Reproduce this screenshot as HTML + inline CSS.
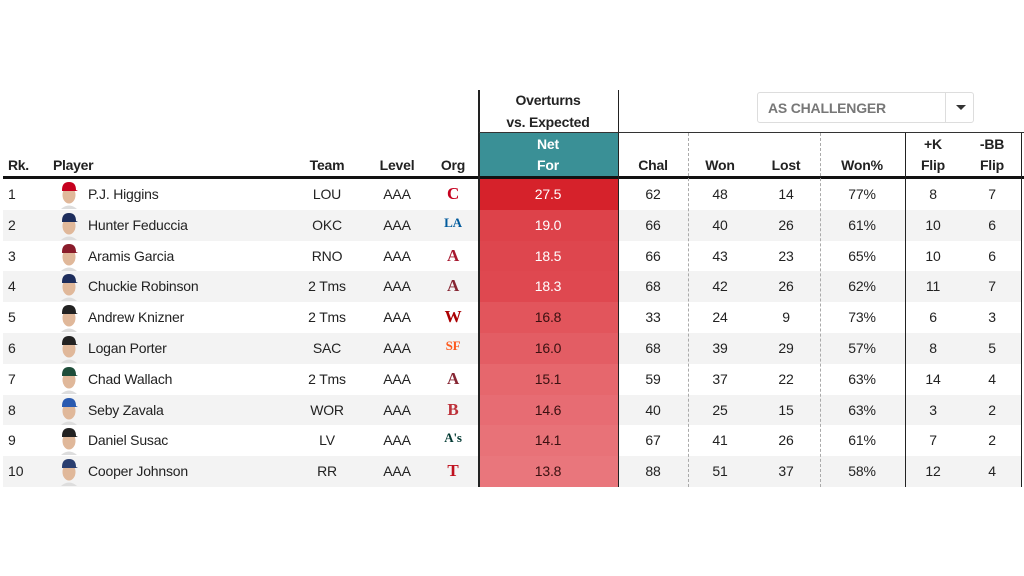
<!DOCTYPE html>
<html><head><meta charset="utf-8">
<style>
html,body{margin:0;padding:0;background:#fff;}
body{width:1024px;height:576px;position:relative;overflow:hidden;font-family:"Liberation Sans",sans-serif;color:#222;}
.a{position:absolute;white-space:nowrap;}
.h{font-weight:bold;font-size:14px;color:#222;letter-spacing:-0.3px;}
.c{font-size:14px;letter-spacing:-0.2px;transform:translateX(-50%);}
</style></head>
<body>
<div id="root"></div>
<script>
const ranks=[1,2,3,4,5,6,7,8,9,10];
const players=["P.J. Higgins","Hunter Feduccia","Aramis Garcia","Chuckie Robinson","Andrew Knizner","Logan Porter","Chad Wallach","Seby Zavala","Daniel Susac","Cooper Johnson"];
const teams=["LOU","OKC","RNO","2 Tms","2 Tms","SAC","2 Tms","WOR","LV","RR"];
const orgs=["C","LA","A","A","W","SF","A","B","A's","T"];
const orgColors=["#c6011f","#005a9c","#a71930","#862633","#ab0003","#fd5a1e","#862633","#bd3039","#003831","#c0111f"];
const capColors=["#c6011f","#1d2d5c","#8a1c2b","#1d2d5c","#222","#222","#1e4d3a","#2a5ab0","#222","#2a3f70"];
const netFor=[27.5,19.0,18.5,18.3,16.8,16.0,15.1,14.6,14.1,13.8];
const chal=[62,66,66,68,33,68,59,40,67,88];
const won=[48,40,43,42,24,39,37,25,41,51];
const lost=[14,26,23,26,9,29,22,15,26,37];
const wonPct=["77%","61%","65%","62%","73%","57%","63%","63%","61%","58%"];
const kFlip=[8,10,10,11,6,8,14,3,7,12];
const bbFlip=[7,6,6,7,3,5,4,2,2,4];

const root=document.getElementById('root');
const T0=179,RH=30.8;
function box(x,y,w,h,bg,name){const d=document.createElement('div');d.className='a';d.style.cssText=`left:${x}px;top:${y}px;width:${w}px;height:${h}px;background:${bg}`;


root.appendChild(d);return d;}
function txt(x,y,s,cls,name,extra){const d=document.createElement('div');d.className='a '+cls;d.style.cssText=`left:${x}px;top:${y}px;`+(extra||'');d.textContent=s;


root.appendChild(d);return d;}

for(let i=0;i<ranks.length;i++){if(i%2==1)box(3,T0+i*RH,1019,RH,'#f3f3f3','row-stripe');}
const mx=Math.max(...netFor),mn=Math.min(...netFor);
function netColor(v){const t=(mx-v)/(mx-mn);const c0=[214,34,43],c1=[233,118,124];
return `rgb(${c0.map((c,k)=>Math.round(c+(c1[k]-c)*Math.pow(t,2))).join(',')})`;}
for(let i=0;i<ranks.length;i++){box(479,T0+i*RH,139,RH+0.5,netColor(netFor[i]),'net-for-cell');}
box(479,133,139,44,'#3a9096','net-for-header-bg');
box(3,176,1021,3,'#111','header-rule');
box(478,90,1.5,397,'#222','divider-net-left');
box(617.5,90,1.5,397,'#222','divider-net-right');
box(479,132,545,1.2,'#333','subheader-rule');
box(904.5,133,1.2,354,'#222','divider-flip');
box(1021,133,1.2,354,'#222','divider-right');
for(const x of [688,820]){const d=box(x,133,0,354,'transparent','dashed-divider');d.style.borderLeft='1px dashed #aaa';}

const hy=157;
txt(8,hy,'Rk.','h','rank-header');
txt(53,hy,'Player','h','player-header');
txt(327,hy,'Team','h c','team-header');
txt(397,hy,'Level','h c','level-header');
txt(453,hy,'Org','h c','org-header');
txt(548,92,'Overturns','h c','overturns-header');
txt(548,114,'vs. Expected','h c','overturns-header-2');
txt(548,136,'Net','h c','net-header','color:#fff');
txt(548,157,'For','h c','for-header','color:#fff');
txt(653,hy,'Chal','h c','chal-header');
txt(720,hy,'Won','h c','won-header');
txt(786,hy,'Lost','h c','lost-header');
txt(862,hy,'Won%','h c','wonpct-header');
txt(933,136,'+K','h c','kflip-header');
txt(933,157,'Flip','h c','kflip-header-2');
txt(992,136,'-BB','h c','bbflip-header');
txt(992,157,'Flip','h c','bbflip-header-2');

const dd=document.createElement('div');dd.className='a';
dd.style.cssText='left:757px;top:92px;width:217px;height:31px;border:1px solid #ddd;border-radius:3px;background:#fff;box-sizing:border-box;';


dd.innerHTML='<span style="position:absolute;left:10px;top:7px;font-weight:bold;font-size:14px;color:#777;letter-spacing:-0.2px">AS CHALLENGER</span><span style="position:absolute;left:187px;top:0;width:1px;height:29px;background:#ddd"></span><span style="position:absolute;left:198px;top:12px;width:0;height:0;border-left:5px solid transparent;border-right:5px solid transparent;border-top:5px solid #333"></span>';
root.appendChild(dd);

for(let i=0;i<ranks.length;i++){
 const y=T0+i*RH+7;
 txt(8,y,String(ranks[i]),'','rank-cell','font-size:14px');
 const av=document.createElement('div');av.className='a';av.style.cssText=`left:59px;top:${T0+i*RH+1}px;width:20px;height:29px`;
 
 
 av.innerHTML=`<svg width="20" height="29"><path d="M2 29 Q10 22 18 29Z" fill="#ddd"/><ellipse cx="10" cy="15" rx="6.5" ry="8.5" fill="#e0b89a"/><path d="M3 10 Q3 2 10 2 Q17 2 17 10 L19 11 L3 11Z" fill="${capColors[i]}"/></svg>`;
 root.appendChild(av);
 txt(88,y,players[i],'','player-name','font-size:14px;letter-spacing:-0.2px');
 txt(327,y,teams[i],'c','team-cell');
 txt(397,y,'AAA','c','level-cell');
 txt(453,y-2,orgs[i],'c','org-logo',`font-family:"Liberation Serif",serif;font-weight:bold;font-size:${orgs[i].length>1?13:17}px;color:${orgColors[i]}`);
 txt(548,y,netFor[i].toFixed(1),'c','net-for-value',`color:${i<4?'#fff':'#3a1010'}`);
 txt(653,y,String(chal[i]),'c','chal-cell');
 txt(720,y,String(won[i]),'c','won-cell');
 txt(786,y,String(lost[i]),'c','lost-cell');
 txt(862,y,wonPct[i],'c','wonpct-cell');
 txt(933,y,String(kFlip[i]),'c','kflip-cell');
 txt(992,y,String(bbFlip[i]),'c','bbflip-cell');
}
</script>
</body></html>
